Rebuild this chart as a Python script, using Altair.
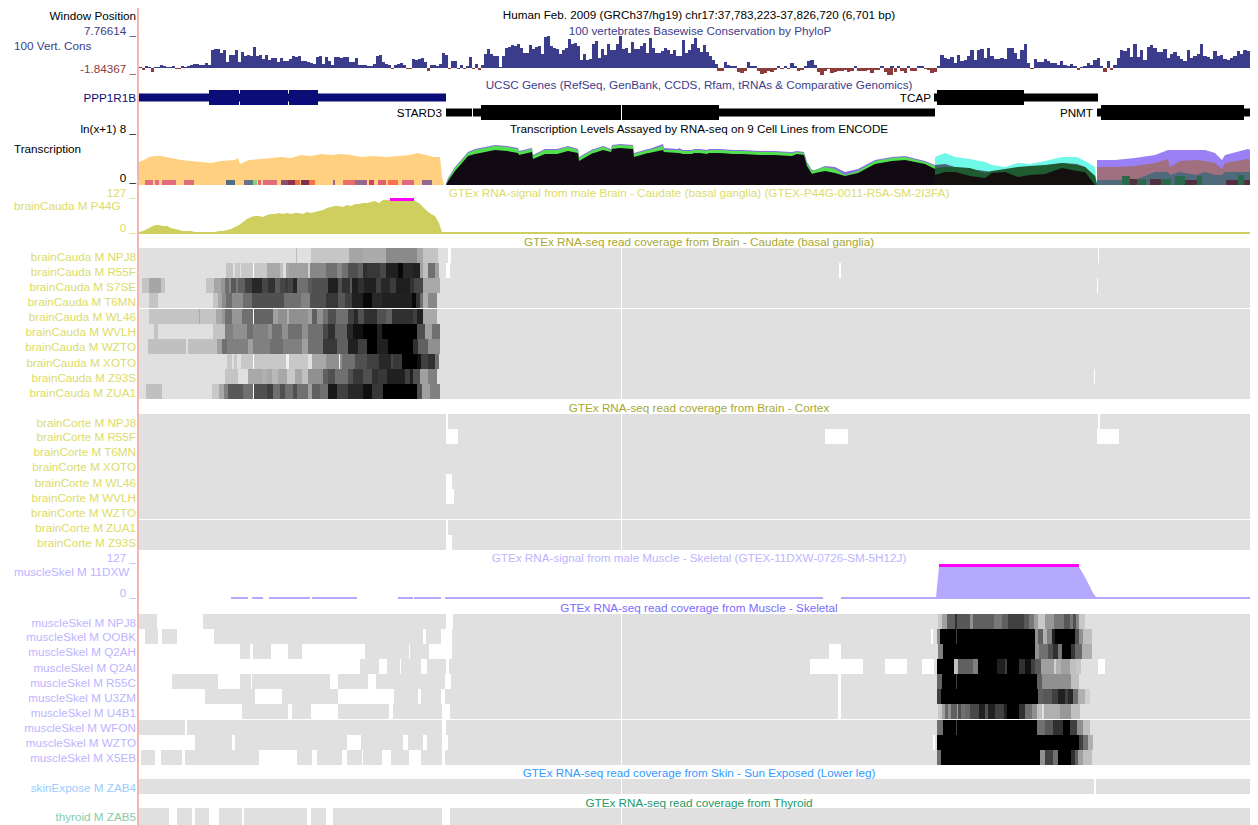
import altair as alt
import pandas as pd

# ---------- conservation (PhyloP, px-height units of the track) ----------
CONS_CHUNKS = [
 (139, 3, [1,-2,2,1,-4,1,1,3,2,1,1,2,-1,-1,2,1,2,3,4,4,3,3,5,3]),
 (211, 3, [18,19,19,15,18,6,13,13,18,6,16,12,13,12,21,12,13,9,13,8,
           10,10,6,10,7,7,9,12,11,12,7,7,6,5,4,11,12,4,11,7,
           3,11,11,10,11,11,6,6,10,3,3,3,2,2,4,12,13,6,4,3,
           -1,3,4,5,3,-1,-1,9,8,9,10,6,-3,3,3,2,4,15,13,-1,
           7,7,-1,3,-1,2,11,-1,4,-2,3,14,19,14,12,12,1,12,20,21]),
 (511, 3, [23,22,24,20,15,15,23,19,21,22,14,31,32,22,20,19,14,18,20,29,24,25,22,8,14,8,9,24,27,10,19,13,24,18,18,24,
           32,19,20,15,26,19,19,22,25,15,30,20,15,15,17,20,18,14,18,12,12,28,15,18,24,30,20,16,23,16,12,8,4]),
 (717, 3.33, [-3,-3,6,3,2,2,-4,-5,-3,6,2,2,-3,-6,-5,-3,-4,-2,2,-1,2,-1,5,2,-3,-2,2,7,8,3,-4,-7,-3,-1,-5,-4,-3,-3,-2,
           -4,-3,2,-3,-3,-3,-2,-5,-2,-2,2,-4,-3,-7]),
 (887, 3.33, [-7,2,-4,2,-3,-5,2,-3,-3,2,2,-1,-2,-5,-4,2,
           13,10,9,11,5,13,7,8,12,18,8,18,19,10,20,12,9,9,10,9,20,20,15,9,18,24,5,-1,9,6,6,9,7,5,5,3,7,3,2,4,2,-2,1,2,5,3,8,10,2,-4,7,-2,3,10,
           18,17,20,11,24,11,18,8,21,23,20,16,16,19,10,14,16,12,9,7,18,10,12,14,24,12,11,9,17,12,13,9,8,10,12,17,14,18,17,6,-2,-3,4]),
]
CONS_BASE = 68

# ---------- gene models: (start, end, half-height class) ----------
GENE_PARTS = [
 ("PPP1R1B", 139, 446, "thin"), ("PPP1R1B", 209, 239, "thick"), ("PPP1R1B", 240, 288, "thick"), ("PPP1R1B", 289, 318, "thick"),
 ("STARD3", 446, 472, "thin"), ("STARD3", 473, 481, "thin"), ("STARD3", 481, 621, "thick"), ("STARD3", 622, 719, "thick"), ("STARD3", 719, 935, "thin"),
 ("TCAP", 934, 937, "thin"), ("TCAP", 937, 1024, "thick"), ("TCAP", 1024, 1098, "thin"),
 ("PNMT", 1097, 1101, "thin"), ("PNMT", 1101, 1244, "thick"), ("PNMT", 1244, 1258, "thin"),
]
GENE_CENTER = {"PPP1R1B": 97.5, "TCAP": 97.5, "STARD3": 112.5, "PNMT": 112.5}
GENE_COLOR = {"PPP1R1B": "#0c0c78", "TCAP": "#000000", "STARD3": "#000000", "PNMT": "#000000"}

# ---------- transcription layers ----------
TX_BASE = 185
TAN_X = [139,144,149,155,161,171,181,191,201,211,221,235,238,240,249,261,271,281,291,301,311,321,331,341,351,361,373,386,398,410,418,426,434,440,442,444]
TAN_H = [23,25,28,29,29,27,25,24,23,22,24,25,27,21,25,26,27,28,27,30,29,31,30,31,30,28,29,28,29,30,32,30,28,28,8,0]
TAN_BLOCKS = [(145,153,"#e06c7c"),(155,159,"#e06c7c"),(162,176,"#e06c7c"),(184,194,"#e06c7c"),(226,235,"#4f6f86"),(244,253,"#7a6a84"),
 (247,253,"#55788c"),(253,257,"#90d070"),(258,261,"#e66a7a"),(263,277,"#e06c7c"),(281,289,"#8a5070"),(288,295,"#8c3050"),(295,300,"#f07040"),
 (301,309,"#803050"),(309,315,"#f87040"),(333,335,"#906a90"),(343,355,"#f06a6a"),(355,363,"#906a90"),(363,367,"#a0608a"),(369,374,"#d04060"),
 (378,386,"#e06070"),(388,398,"#f87050"),(402,414,"#e06a80"),(422,432,"#906a90")]

BLACK_X = [446,448,455,462,468,475,485,495,507,518,519,532,533,545,557,568,578,579,593,594,603,611,612,620,633,634,648,649,663,664,678,679,683,692,694,700,
           707,709,720,733,743,760,775,790,792,797,804,807,812,815,825,835,845,858,875,892,905,925,935]
PURPLE_H = [1,7,18,26,33,36,38,40,39,37,34,37,30,36,36,39,36,28,36,36,39,36,40,41,40,32,36,36,41,37,36,37,35,35,36,36,
            35,36,36,35,35,34,34,33,33,34,33,23,15,15,19,18,13,16,25,28,29,24,20]
GREEN_H = [0,6,17,25,32,35,37,39,38,36,33,36,29,35,35,38,35,27,35,35,38,35,39,40,39,31,35,35,39,35,35,35,34,34,35,35,
           34,35,35,34,34,33,33,32,32,33,32,22,14,15,18,16,10,14,24,27,28,23,19]
BLACK_H = [0,4,14,22,29,31,33,35,34,32,30,33,26,31,31,34,32,24,32,32,35,33,36,37,36,28,32,32,35,33,32,32,31,31,32,32,
           31,32,32,31,31,30,30,29,29,31,30,19,11,12,14,12,9,12,21,24,25,21,16]

SEC2_X = [935,945,955,970,985,992,1005,1018,1030,1045,1062,1077,1085,1095,1097]
CYAN_H = [28,32,28,26,23,20,18,22,21,24,28,28,24,18,0]
SLATE_H = [20,21,18,16,14,13,14,17,16,18,22,21,18,9,0]
DGREEN_H = [17,18,18,17,12,14,16,18,19,20,22,20,18,9,0]
DARK_H = [10,13,13,9,7,12,13,8,10,11,17,14,13,0,0]

SEC3_X = [1097,1115,1135,1155,1168,1170,1180,1196,1205,1215,1222,1225,1248,1258]
VIOLET_H = [25,25,27,30,35,35,35,35,35,32,25,30,36,32]
MAUVE_H = [18,18,19,22,26,18,24,25,24,22,16,22,26,22]
SLATE2_H = [5,5,5,13,13,10,13,10,13,10,10,13,13,15]
TX_BITS = [(1122,1130,9,"#2a6a4a"),(1130,1137,6,"#503040"),(1137,1146,6,"#2a6a4a"),(1150,1161,6,"#503040"),(1161,1171,6,"#2a6a4a"),
           (1175,1185,9,"#2a6a4a"),(1185,1197,5,"#503040"),(1197,1202,9,"#2a6a4a"),(1226,1238,5,"#503040"),(1238,1244,10,"#2a6a4a"),(1244,1253,5,"#503040"),(1125,1126,5,"#b03040")]

# ---------- caudate bigWig ----------
CAUD_BASE = 234
CAUD_X = list(range(139,443,4)) + [442]
CAUD_H = [2,3,5,7,9,9,8,8,6,5,4,3,3,3,2,2,2,2,2,2,3,3,4,5,7,9,12,15,17,18,18,17,19,20,20,21,20,21,20,21,21,20,22,21,22,23,24,26,27,28,28,27,29,28,30,30,31,31,32,33,31,34,34,34,34,34,34,34,34,33,31,27,23,20,18,11,2]
MAGENTA_BRAIN = (390, 414)

# ---------- muscle bigWig ----------
MUSC_LOW = [(231,248),(252,263),(269,310),(312,357),(398,413),(414,441),(445,823),(841,937),(1096,1258)]
MUSC_X = [936,939,960,1000,1040,1079,1082,1086,1090,1093,1096]
MUSC_H = [2,32,32,32,32,32,27,20,12,6,2]
MAGENTA_MUSCLE = (939, 1079)

# ---------- read coverage heat rows: break lists of (x-start, gray) ----------
CAUDATE_NAMES = ["NPJ8","R55F","S7SE","T6MN","WL46","WVLH","WZTO","XOTO","Z93S","ZUA1"]
CAUDATE_TOPS = [248,263,278,293,309,324,339,354,369,384]
CAUDATE_LABEL_Y = [257,272,287,302,317,332,347,363,378,393]
CAUDATE_ROWS = [
 [(139,224),(296,190),(297,224),(311,198),(349,166),(363,171),(386,138),(417,166),(423,196),(438,224),(448,255),(451,224)],
 [(139,224),(226,196),(233,224),(235,200),(240,224),(241,200),(253,255),(254,200),(267,168),(280,192),(283,224),(286,168),(289,160),(308,208),(310,136),(326,112),(337,136),(342,112),(348,80),(358,96),(363,48),(367,56),(380,72),(386,32),(398,8),(403,40),(413,32),(420,160),(423,192),(428,112),(435,160),(439,224),(446,255),(450,224)],
 [(139,224),(142,196),(149,166),(161,196),(165,224),(206,196),(214,166),(221,150),(225,112),(229,136),(231,90),(236,120),(238,96),(245,64),(252,40),(262,70),(268,50),(275,90),(280,70),(285,60),(288,70),(293,40),(297,112),(308,90),(312,80),(328,32),(338,80),(342,50),(350,90),(352,30),(358,48),(364,32),(376,64),(381,40),(390,60),(396,30),(410,50),(414,70),(423,168),(440,224)],
 [(139,224),(149,196),(158,224),(213,196),(218,168),(222,140),(226,110),(232,140),(243,110),(252,80),(284,112),(301,130),(310,80),(326,56),(338,88),(345,64),(352,32),(363,8),(372,40),(382,32),(412,8),(416,50),(420,110),(423,176),(428,136),(437,224)],
 [(139,224),(149,196),(199,170),(200,196),(216,168),(222,150),(225,112),(232,150),(242,112),(253,255),(254,100),(273,160),(278,144),(287,176),(289,144),(308,160),(312,96),(317,144),(323,112),(328,80),(336,112),(348,64),(354,40),(358,80),(364,48),(377,80),(386,96),(392,48),(413,64),(417,32),(423,168),(437,224)],
 [(139,224),(154,196),(158,224),(213,196),(225,128),(233,144),(247,112),(253,128),(268,144),(272,112),(282,144),(288,112),(302,144),(308,112),(323,72),(328,48),(335,96),(347,40),(353,16),(363,0),(377,32),(382,0),(417,80),(425,160),(432,112),(440,224)],
 [(139,224),(148,192),(186,224),(188,192),(217,160),(222,112),(227,128),(248,160),(253,128),(270,112),(283,128),(302,160),(308,112),(323,56),(337,96),(348,32),(358,64),(367,0),(377,32),(388,0),(413,48),(418,96),(428,144),(440,224)],
 [(139,224),(227,200),(232,224),(234,200),(237,224),(241,200),(253,255),(254,200),(286,240),(289,200),(308,224),(312,168),(326,144),(339,240),(340,144),(342,112),(355,80),(367,64),(379,40),(391,72),(393,56),(402,0),(417,16),(421,64),(428,48),(435,112),(439,224)],
 [(139,224),(225,196),(238,224),(248,168),(262,176),(267,168),(272,184),(278,168),(287,200),(295,168),(302,192),(308,144),(323,96),(328,80),(335,112),(348,80),(353,56),(363,80),(372,48),(378,56),(387,32),(405,64),(410,32),(413,80),(420,160),(428,128),(437,224)],
 [(139,224),(146,192),(162,224),(212,200),(219,168),(224,128),(228,88),(243,112),(253,255),(254,80),(267,64),(273,112),(280,80),(285,112),(293,80),(297,112),(308,160),(312,96),(320,112),(328,24),(337,64),(348,40),(363,16),(372,56),(383,0),(417,80),(422,160),(430,128),(440,224)],
]
CAUDATE_WHITE = [(1,839,841),(2,1097,1098),(8,1094,1095),(0,1098,1099)]

CORTEX_NAMES = ["NPJ8","R55F","T6MN","XOTO","WL46","WVLH","WZTO","ZUA1","Z93S"]
CORTEX_TOPS = [414,429,444,459,474,489,504,520,535]
CORTEX_LABEL_Y = [423,437,452,467,483,498,513,528,543]
CORTEX_WHITE = [(0,446,448),(0,1098,1100),(1,446,458),(1,825,848),(1,1097,1119),(4,446,452),(5,446,454),(7,446,448),(8,446,452)]

MUSCLE_NAMES = ["NPJ8","OOBK","Q2AH","Q2AI","R55C","U3ZM","U4B1","WFON","WZTO","X5EB"]
MUSCLE_TOPS = [614,629,644,659,674,689,704,720,735,750]
MUSCLE_LABEL_Y = [623,637,652,668,683,698,713,728,743,758]
MUSCLE_SPANS = [
 [(139,157),(203,446),(453,1258)],
 [(145,158),(162,177),(214,423),(426,441),(452,1258)],
 [(240,250),(253,271),(288,302),(365,409),(410,429),(452,1258)],
 [(360,379),(387,400),(401,421),(427,446),(449,1258)],
 [(172,218),(240,251),(252,330),(338,368),(376,445),(451,1258)],
 [(205,255),(282,338),(394,418),(421,441),(445,1258)],
 [(242,288),(292,311),(338,389),(393,442),(450,1258)],
 [(139,185),(187,442),(446,1258)],
 [(195,232),(235,347),(361,403),(408,423),(427,442),(448,1258)],
 [(141,155),(161,182),(185,259),(297,312),(317,342),(347,362),(363,382),(391,409),(421,442),(445,1258)],
]
MUSCLE_WHITE = [(1,931,933),(1,1256,1258),(2,829,841),(3,810,863),(3,885,907),(3,922,934),(3,1098,1105),(3,1256,1258),
                (4,838,841),(5,838,841),(6,838,841),(8,933,935),(9,1256,1258)]
MUSCLE_DARK = [
 [(938,200),(942,160),(947,96),(955,48),(957,88),(970,144),(973,96),(994,120),(1002,96),(1008,64),(1024,88),(1029,120),(1034,160),(1038,200),(1045,152),(1054,120),(1064,88),(1070,120),(1073,80),(1076,136),(1079,200),(1085,224)],
 [(937,140),(940,0),(956,64),(957,0),(1035,144),(1038,96),(1043,176),(1047,128),(1052,32),(1055,0),(1075,80),(1079,144),(1083,192),(1092,224)],
 [(938,128),(943,0),(1035,144),(1039,112),(1048,80),(1053,48),(1058,120),(1062,0),(1071,56),(1075,104),(1082,176),(1092,224)],
 [(937,0),(954,192),(958,96),(973,128),(978,0),(997,32),(1005,64),(1007,0),(1019,48),(1025,16),(1031,64),(1035,88),(1041,160),(1054,208),(1056,176),(1061,160),(1070,192),(1076,200),(1081,224)],
 [(937,100),(942,0),(956,64),(957,0),(1037,96),(1042,144),(1071,192),(1079,224)],
 [(937,64),(941,0),(1038,96),(1043,88),(1052,64),(1058,32),(1065,64),(1068,40),(1073,112),(1078,176),(1085,208),(1090,224)],
 [(938,200),(942,160),(945,104),(948,144),(951,96),(957,160),(958,80),(961,112),(965,104),(970,72),(979,32),(985,80),(988,32),(995,64),(1004,32),(1007,0),(1019,48),(1025,112),(1032,144),(1037,192),(1042,224),(1044,176),(1060,152),(1071,192),(1080,224)],
 [(937,112),(943,0),(956,64),(957,0),(1037,112),(1045,88),(1053,48),(1063,0),(1070,64),(1077,144),(1083,192),(1090,224)],
 [(937,0),(1079,64),(1083,112),(1088,176),(1093,224)],
 [(937,112),(941,0),(1040,144),(1045,64),(1053,112),(1058,0),(1071,48),(1075,96),(1078,160),(1083,192),(1092,224)],
]

SKIN_SPANS = [(139,1094),(1096,1258)]
SKIN_TOP, SKIN_BOTTOM = 779, 794
THYROID_SPANS = [(139,169),(177,192),(195,209),(219,242),(244,307),(311,326),(333,442),(450,1258)]
THYROID_TOP, THYROID_BOTTOM = 808, 825
ROW_H = 15

# ---------- text ----------
C_CONS, C_CONS_RED = "#3c3c8c", "#8c3c3c"
C_BRAIN_T, C_BRAIN = "#a8a830", "#dcdc68"
C_MUSC_T, C_MUSC = "#7a6cff", "#bdb4ff"
TEXTS = [
 ("Window Position",136,16,"right","#000000"),
 ("Human Feb. 2009 (GRCh37/hg19)   chr17:37,783,223-37,826,720 (6,701 bp)",699,15,"center","#000000"),
 ("7.76614 _",136,31,"right",C_CONS),
 ("100 vertebrates Basewise Conservation by PhyloP",700,31,"center",C_CONS),
 ("100 Vert. Cons",14,46,"left",C_CONS),
 ("-1.84367 _",136,69,"right",C_CONS_RED),
 ("UCSC Genes (RefSeq, GenBank, CCDS, Rfam, tRNAs & Comparative Genomics)",699,85,"center",C_CONS),
 ("PPP1R1B",136,97.5,"right","#0c0c78"),
 ("TCAP",931,97.5,"right","#000000"),
 ("STARD3",442,113,"right","#000000"),
 ("PNMT",1093,113,"right","#000000"),
 ("ln(x+1) 8 _",136,129,"right","#000000"),
 ("Transcription Levels Assayed by RNA-seq on 9 Cell Lines from ENCODE",699,129,"center","#000000"),
 ("Transcription",14,149,"left","#000000"),
 ("0 _",136,178,"right","#000000"),
 ("127 _",136,193,"right",C_BRAIN),
 ("GTEx RNA-signal from male Brain - Caudate (basal ganglia) (GTEX-P44G-0011-R5A-SM-2I3FA)",699,193,"center",C_BRAIN),
 ("brainCauda M P44G",14,206,"left",C_BRAIN),
 ("0 _",136,228,"right",C_BRAIN),
 ("GTEx RNA-seq read coverage from Brain - Caudate (basal ganglia)",699,242,"center",C_BRAIN_T),
 ("GTEx RNA-seq read coverage from Brain - Cortex",699,408,"center",C_BRAIN_T),
 ("127 _",136,558,"right",C_MUSC),
 ("GTEx RNA-signal from male Muscle - Skeletal (GTEX-11DXW-0726-SM-5H12J)",699,558,"center",C_MUSC),
 ("muscleSkel M 11DXW",14,572,"left",C_MUSC),
 ("0 _",136,593,"right",C_MUSC),
 ("GTEx RNA-seq read coverage from Muscle - Skeletal",699,608,"center",C_MUSC_T),
 ("GTEx RNA-seq read coverage from Skin - Sun Exposed (Lower leg)",699,773,"center","#3399ff"),
 ("skinExpose M ZAB4",136,788,"right","#99ccff"),
 ("GTEx RNA-seq read coverage from Thyroid",699,803,"center","#229966"),
 ("thyroid M ZAB5",136,817,"right","#88ccaa"),
]
for n, y in zip(CAUDATE_NAMES, CAUDATE_LABEL_Y):
    TEXTS.append((f"brainCauda M {n}",136,y,"right",C_BRAIN))
for n, y in zip(CORTEX_NAMES, CORTEX_LABEL_Y):
    TEXTS.append((f"brainCorte M {n}",136,y,"right",C_BRAIN))
for n, y in zip(MUSCLE_NAMES, MUSCLE_LABEL_Y):
    TEXTS.append((f"muscleSkel M {n}",136,y,"right",C_MUSC))

# ---------- build tables ----------
GRAY = "#e0e0e0"
def gray(g):
    return f"#{g:02x}{g:02x}{g:02x}"

rects = []
def rect(x, x2, y, y2, color):
    rects.append(dict(x=x, x2=x2, y=y, y2=y2, c=color))

for start, step, vals in CONS_CHUNKS:
    for i, v in enumerate(vals):
        a = round(start + i*step); b = round(start + (i+1)*step)
        if a >= 1258:
            break
        b = min(b, 1258)
        if v >= 0:
            rect(a, b, CONS_BASE - v, CONS_BASE, C_CONS)
        else:
            rect(a, b, CONS_BASE, CONS_BASE - v, C_CONS_RED)

for name, a, b, kind in GENE_PARTS:
    half = 7.5 if kind == "thick" else 4
    c = GENE_CENTER[name]
    rect(a, b, c-half, c+half, GENE_COLOR[name])

def breaks(row, top, bottom=None, end=1258):
    bottom = top + ROW_H if bottom is None else bottom
    for (a, g), nxt in zip(row, row[1:] + [(end, None)]):
        rect(a, nxt[0], top, bottom, gray(g))

for row, top in zip(CAUDATE_ROWS, CAUDATE_TOPS):
    breaks(row, top)
for i, a, b in CAUDATE_WHITE:
    rect(a, b, CAUDATE_TOPS[i], CAUDATE_TOPS[i]+ROW_H, "#ffffff")
for top in CORTEX_TOPS:
    rect(139, 1258, top, top+ROW_H, GRAY)
for i, a, b in CORTEX_WHITE:
    rect(a, b, CORTEX_TOPS[i], CORTEX_TOPS[i]+ROW_H, "#ffffff")
for spans, dark, top in zip(MUSCLE_SPANS, MUSCLE_DARK, MUSCLE_TOPS):
    for a, b in spans:
        rect(a, b, top, top+ROW_H, GRAY)
    for (a, g), nxt in zip(dark, dark[1:]):
        rect(a, nxt[0], top, top+ROW_H, gray(g))
for i, a, b in MUSCLE_WHITE:
    rect(a, b, MUSCLE_TOPS[i], MUSCLE_TOPS[i]+ROW_H, "#ffffff")
for a, b in SKIN_SPANS:
    rect(a, b, SKIN_TOP, SKIN_BOTTOM, GRAY)
for a, b in THYROID_SPANS:
    rect(a, b, THYROID_TOP, THYROID_BOTTOM, GRAY)
# vertical base-position guide through the coverage tracks
for top, bottom in [(248,399),(414,550),(614,765),(779,794),(808,825)]:
    rect(621, 622, top, bottom, "#ffffff")

rects_sig = []
def rect_sig(a, b, y, y2, c):
    rects_sig.append(dict(x=a, x2=b, y=y, y2=y2, c=c))
for a, b, c in TAN_BLOCKS:
    rect_sig(a, b, TX_BASE-5, TX_BASE, c)
for a, b, h, c in TX_BITS:
    rect_sig(a, b, TX_BASE-h, TX_BASE, c)
rect_sig(442, 1258, 232, 234, "#cfcf5f")
rect_sig(MAGENTA_BRAIN[0], MAGENTA_BRAIN[1], 198, 201, "#ff00ff")
for a, b in MUSC_LOW:
    rect_sig(a, b, 597, 599, "#b4a8ff")
rect_sig(MAGENTA_MUSCLE[0], MAGENTA_MUSCLE[1], 564, 567, "#ff00ff")
rect_sig(137, 139, 8, 825, "#f4b4b0")

# The page body is 1242px wide, so the view covers reference columns 8..1250.
X = alt.Scale(domain=[8, 1250], nice=False, zero=False)
Y = alt.Scale(domain=[825, 8], nice=False, zero=False)
x_ = alt.X("x:Q", scale=X, axis=None)
y_ = alt.Y("y:Q", scale=Y, axis=None)

def area(xs, hs, base, color):
    df = pd.DataFrame(dict(x=xs, y=[base-h for h in hs], y2=[base]*len(xs)))
    return alt.Chart(df).mark_area(color=color, interpolate="linear", opacity=1, clip=True).encode(x=x_, y=y_, y2="y2:Q")

def rect_layer(rows):
    return alt.Chart(pd.DataFrame(rows)).mark_rect(clip=True).encode(
        x=x_, x2="x2:Q", y=y_, y2="y2:Q", color=alt.Color("c:N", scale=None))

layers = [
    rect_layer(rects),
    area(TAN_X, TAN_H, TX_BASE, "#ffd07f"),
    area(BLACK_X, PURPLE_H, TX_BASE, "#8a70e0"),
    area(BLACK_X, GREEN_H, TX_BASE, "#50e050"),
    area(BLACK_X, BLACK_H, TX_BASE, "#120a12"),
    area(SEC2_X, CYAN_H, TX_BASE, "#70f8e8"),
    area(SEC2_X, SLATE_H, TX_BASE, "#486878"),
    area(SEC2_X, DGREEN_H, TX_BASE, "#205a30"),
    area(SEC2_X, DARK_H, TX_BASE, "#141010"),
    area(SEC3_X, VIOLET_H, TX_BASE, "#9a80f4"),
    area(SEC3_X, MAUVE_H, TX_BASE, "#a07080"),
    area(SEC3_X, SLATE2_H, TX_BASE, "#4f6a7a"),
    area(CAUD_X, CAUD_H, CAUD_BASE, "#cfcf5f"),
    area(MUSC_X, MUSC_H, 599, "#b4a8ff"),
    rect_layer(rects_sig),
]

text_df = pd.DataFrame(TEXTS, columns=["t","x","y","a","c"])
for al in ["left","center","right"]:
    layers.append(alt.Chart(text_df[text_df.a == al]).mark_text(
        align=al, baseline="middle", font="Liberation Sans", fontSize=11.7).encode(
        x=x_, y=y_, text="t:N", color=alt.Color("c:N", scale=None)))

chart = alt.layer(*layers).properties(
    width=1242, height=817, padding=0, autosize=alt.AutoSizeParams(type="none"),
).configure_view(stroke=None)

chart.save("out.html", embed_options={"renderer": "svg", "actions": False})
